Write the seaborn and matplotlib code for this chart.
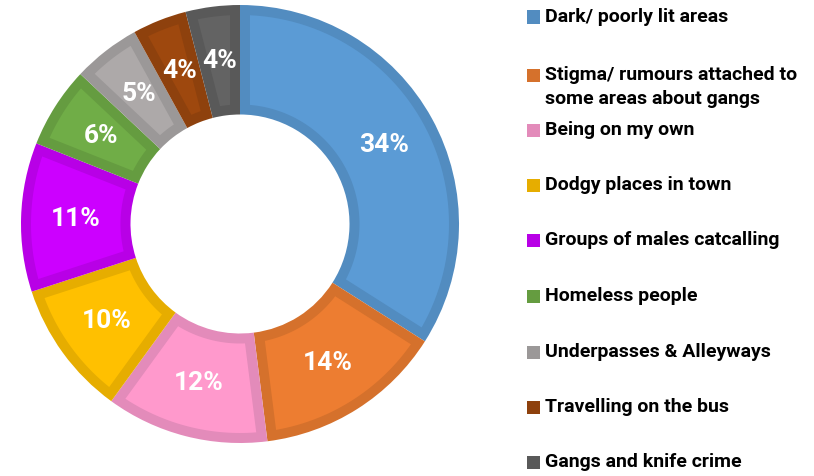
import numpy as np
import matplotlib
matplotlib.use("Agg")
import matplotlib.pyplot as plt
from matplotlib.patches import Rectangle, Polygon
import seaborn as sns

# Concerns raised and their share of responses (%)
categories = [
    "Dark/ poorly lit areas",
    "Stigma/ rumours attached to\nsome areas about gangs",
    "Being on my own",
    "Dodgy places in town",
    "Groups of males catcalling",
    "Homeless people",
    "Underpasses & Alleyways",
    "Travelling on the bus",
    "Gangs and knife crime",
]
shares = [34, 14, 12, 10, 11, 6, 5, 4, 4]

fill_colors = ["#5B9BD5", "#ED7D31", "#FF99CC", "#FFC000", "#CC00FF",
               "#70AD47", "#ADA9A9", "#9E480E", "#636363"]
rim_colors = ["#528CC0", "#D5712C", "#E38BBA", "#E6AD00", "#B800E6",
              "#659C40", "#9B9898", "#8E410D", "#595959"]

sns.set_theme(style="white")
plt.rcParams["font.family"] = ["Roboto", "DejaVu Sans"]

W, H = 814, 476
fig = plt.figure(figsize=(W / 100, H / 100), dpi=100)
fig.patch.set_facecolor("white")

# Donut occupies a square region on the left
cx, cy, r = 240, 224, 219
ax = fig.add_axes([(cx - r) / W, (H - cy - r) / H, 2 * r / W, 2 * r / H])

# Segments are drawn in the rim colour; a lighter inset is laid on top
wedges, texts, autotexts = ax.pie(
    shares,
    colors=rim_colors,
    startangle=90,
    counterclock=False,
    radius=1.0,
    wedgeprops=dict(width=0.5, linewidth=0),
    autopct=lambda p: f"{p:.0f}%",
    pctdistance=0.75,
    textprops=dict(color="white", fontsize=19, fontweight="bold"),
)
ax.set_xlim(-1, 1)
ax.set_ylim(-1, 1)
ax.set_aspect("equal")
ax.axis("off")


def inset_sector(w, d, n=60):
    """Polygon of an annular wedge shrunk by distance d on every side."""
    R = w.r
    r0 = w.r - w.width
    t1, t2 = np.radians(w.theta1), np.radians(w.theta2)
    ro, ri = R - d, r0 + d
    ao = np.arcsin(d / ro)
    ai = np.arcsin(d / ri)
    outer = np.linspace(t1 + ao, t2 - ao, n)
    inner = np.linspace(t2 - ai, t1 + ai, n)
    pts = np.concatenate([
        np.c_[ro * np.cos(outer), ro * np.sin(outer)],
        np.c_[ri * np.cos(inner), ri * np.sin(inner)],
    ])
    return pts + np.asarray(w.center)


rim = 10 / r
for w, fc in zip(wedges, fill_colors):
    ax.add_patch(Polygon(inset_sector(w, rim), closed=True, facecolor=fc,
                         edgecolor="none", zorder=w.get_zorder() + 0.5))
for t in autotexts:
    t.set_zorder(5)

# Legend on the right
row_y = [17, 75, 130, 185, 240, 296, 352, 407, 462]
sq = 13
for label, ec, y in zip(categories, rim_colors, row_y):
    fig.patches.append(Rectangle((527 / W, (H - y - sq / 2) / H), sq / W, sq / H,
                                 transform=fig.transFigure, facecolor=ec,
                                 edgecolor="none"))
    for i, line in enumerate(label.split("\n")):
        fig.text(545 / W, (H - y - i * 24) / H, line, ha="left", va="center",
                 fontsize=14, fontweight="bold", color="black")

fig.savefig("out.png", dpi=100, facecolor="white")
